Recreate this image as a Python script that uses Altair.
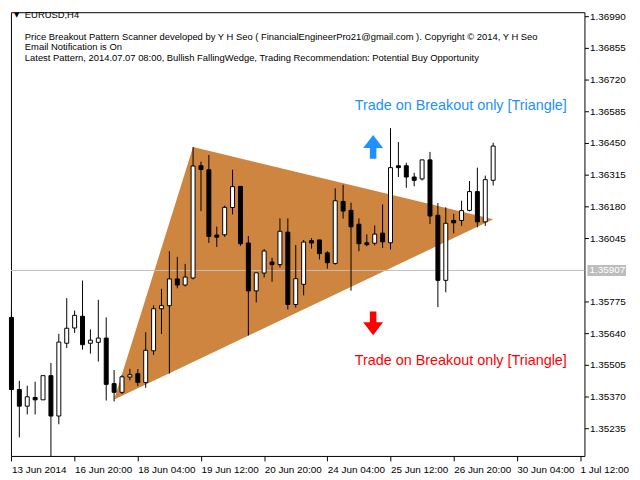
import altair as alt
import pandas as pd

# ---- candle data (EURUSD H4), bar index 0..61 ----
opens = [1.35707, 1.35400, 1.35329, 1.35366, 1.35356, 1.35459, 1.35287, 1.35597, 1.35662, 1.35712,
         1.35597, 1.35601, 1.35619, 1.35425, 1.35388, 1.35453, 1.35467, 1.35430, 1.35565, 1.35744,
         1.35757, 1.35871, 1.35845, 1.35875, 1.36353, 1.36336, 1.36058, 1.36059, 1.36175, 1.36265,
         1.36024, 1.35820, 1.35896, 1.35943, 1.35932, 1.36070, 1.35762, 1.35848, 1.36034, 1.36037,
         1.35982, 1.35937, 1.36201, 1.36163, 1.36104, 1.36025, 1.36023, 1.36066, 1.36025, 1.36353,
         1.36353, 1.36305, 1.36297, 1.36378, 1.36142, 1.35865, 1.36120, 1.36120, 1.36163, 1.36243,
         1.36114, 1.36291]
highs = [1.35733, 1.35437, 1.35416, 1.35433, 1.35459, 1.35513, 1.35637, 1.35789, 1.35736, 1.35864,
         1.35656, 1.35782, 1.35707, 1.35483, 1.35461, 1.35488, 1.35487, 1.35644, 1.35758, 1.35829,
         1.35989, 1.35965, 1.35935, 1.36433, 1.36370, 1.36399, 1.36094, 1.36183, 1.36336, 1.36265,
         1.36054, 1.35897, 1.35998, 1.35961, 1.36129, 1.36129, 1.36015, 1.36037, 1.36045, 1.36037,
         1.35989, 1.36257, 1.36272, 1.36196, 1.36129, 1.36061, 1.36099, 1.36188, 1.36513, 1.36454,
         1.36366, 1.36323, 1.36378, 1.36412, 1.36194, 1.36176, 1.36148, 1.36204, 1.36288, 1.36345,
         1.36311, 1.36451]
lows = [1.35387, 1.35196, 1.35294, 1.35294, 1.35356, 1.35114, 1.35252, 1.35577, 1.35641, 1.35570,
        1.35553, 1.35519, 1.35353, 1.35349, 1.35381, 1.35439, 1.35414, 1.35407, 1.35547, 1.35637,
        1.35468, 1.35831, 1.35839, 1.35869, 1.36160, 1.36024, 1.36007, 1.36050, 1.36146, 1.36012,
        1.35630, 1.35771, 1.35877, 1.35859, 1.35920, 1.35741, 1.35749, 1.35801, 1.36000, 1.35954,
        1.35915, 1.35932, 1.36128, 1.35821, 1.35989, 1.36010, 1.36014, 1.36003, 1.35996, 1.36305,
        1.36259, 1.36266, 1.36290, 1.36105, 1.35751, 1.35814, 1.36065, 1.36097, 1.36159, 1.36091,
        1.36097, 1.36269]
closes = [1.35400, 1.35329, 1.35369, 1.35356, 1.35459, 1.35287, 1.35602, 1.35661, 1.35716, 1.35591,
          1.35610, 1.35619, 1.35422, 1.35388, 1.35454, 1.35463, 1.35430, 1.35567, 1.35744, 1.35757,
          1.35871, 1.35845, 1.35879, 1.36352, 1.36337, 1.36052, 1.36049, 1.36176, 1.36264, 1.36021,
          1.35820, 1.35897, 1.35990, 1.35932, 1.36074, 1.35762, 1.35872, 1.36028, 1.36024, 1.35979,
          1.35940, 1.36204, 1.36160, 1.36093, 1.36021, 1.36017, 1.36062, 1.36029, 1.36345, 1.36345,
          1.36305, 1.36291, 1.36378, 1.36139, 1.35865, 1.36108, 1.36110, 1.36162, 1.36243, 1.36114,
          1.36294, 1.36437]

# ---- axes ----
x_tick_bars = [0, 8, 16, 24, 32, 40, 48, 56, 64, 72]
x_tick_labels = ["13 Jun 2014", "16 Jun 20:00", "18 Jun 04:00", "19 Jun 12:00", "20 Jun 20:00",
                 "24 Jun 04:00", "25 Jun 12:00", "26 Jun 20:00", "30 Jun 04:00", "1 Jul 12:00"]
y_tick_values = [1.36990, 1.36855, 1.36720, 1.36585, 1.36450, 1.36315, 1.36180, 1.36045,
                 1.35775, 1.35640, 1.35505, 1.35370, 1.35235]
current_price = 1.35907

# ---- pattern triangle vertices ----
tri_bars = [13, 23, 61]
tri_prices = [1.35357, 1.36433, 1.36125]

# ---- annotations ----
arrow_bar = 45.8
arrow_up_price = 1.36433
arrow_down_price = 1.35682
note_text = "Trade on Breakout only [Triangle]"
note_bar = 56.9
note_up_price = 1.36607
note_down_price = 1.35522

header = "EURUSD,H4"
info_lines = [
    "Price Breakout Pattern Scanner developed by Y H Seo ( FinancialEngineerPro21@gmail.com ). Copyright \u00a9 2014, Y H Seo",
    "Email Notification is On",
    "Latest Pattern, 2014.07.07 08:00, Bullish FallingWedge, Trading Recommendation: Potential Buy Opportunity",
]

FONT = "Liberation Sans"
W, H = 579, 448

df = pd.DataFrame({"bar": list(range(len(opens))), "open": opens, "high": highs,
                   "low": lows, "close": closes})
df["kind"] = ["bull" if c > o else "bear" for o, c in zip(opens, closes)]

# triangle as area between upper edge and straight lower edge (left vertex -> right vertex)
x0, x1 = tri_bars[0], tri_bars[2]
p0, p1 = tri_prices[0], tri_prices[2]
tri_df = pd.DataFrame({
    "bar": tri_bars,
    "upper": tri_prices,
    "lower": [p0 + (b - x0) / (x1 - x0) * (p1 - p0) for b in tri_bars],
})

xscale = alt.Scale(domain=[-0.06, 72.56], nice=False, zero=False, padding=0)
yscale = alt.Scale(domain=[1.35117, 1.37007], nice=False, zero=False, padding=0)

label_expr = "[" + ",".join("'" + s + "'" for s in x_tick_labels) + "][round(datum.value/8)]"
xaxis = alt.Axis(values=x_tick_bars, labelExpr=label_expr, orient="bottom", grid=False,
                 domain=False, tickSize=5, tickColor="black", labelAlign="left",
                 labelBaseline="top", labelPadding=4, labelFontSize=10, labelFont=FONT,
                 labelColor="black", labelOverlap=False, labelFlush=False, labelBound=False,
                 title=None)
yaxis = alt.Axis(values=y_tick_values, format=".5f", orient="right", grid=False, domain=False,
                 tickSize=4, tickColor="black", labelPadding=1, labelFontSize=10,
                 labelFont=FONT, labelColor="black", labelOverlap=False, labelFlush=False,
                 labelBound=False, title=None)


def xe(field):
    return alt.X(field, type="quantitative", scale=xscale, axis=xaxis)


def ye(field):
    return alt.Y(field, type="quantitative", scale=yscale, axis=yaxis)


triangle = alt.Chart(tri_df).mark_area(color="#CD853F", opacity=1).encode(
    x=xe("bar"), y=ye("upper"), y2="lower")

price_df = pd.DataFrame({"price": [current_price], "label": [f"{current_price:.5f}"]})
price_line = alt.Chart(price_df).mark_rule(color="#C0C0C0", strokeWidth=1).encode(y=ye("price"))

wicks = alt.Chart(df).mark_rule(color="black", strokeWidth=1).encode(
    x=xe("bar"), y=ye("low"), y2="high")
bodies = alt.Chart(df).mark_bar(size=4, stroke="black", strokeWidth=1).encode(
    x=xe("bar"), y=ye("open"), y2="close",
    fill=alt.Fill("kind:N", scale=alt.Scale(domain=["bull", "bear"], range=["white", "black"]),
                  legend=None))

price_box = alt.Chart(price_df).mark_rule(color="#BDBDBD", strokeWidth=11).encode(
    x=alt.value(W + 3), x2=alt.value(W + 42), y=ye("price"))
price_txt = alt.Chart(price_df).mark_text(align="left", baseline="middle", color="white",
                                         fontSize=10, font=FONT).encode(
    x=alt.value(W + 5), y=ye("price"), text="label:N")

UP = "M0,-1.2L1,0.1L0.33,0.1L0.33,1.2L-0.33,1.2L-0.33,0.1L-1,0.1Z"
DOWN = "M0,1.2L1,-0.1L0.33,-0.1L0.33,-1.2L-0.33,-1.2L-0.33,-0.1L-1,-0.1Z"
arr_up = alt.Chart(pd.DataFrame({"bar": [arrow_bar], "price": [arrow_up_price]})).mark_point(
    shape=UP, size=400, filled=True, color="#1E90FF", opacity=1, strokeWidth=0).encode(
    x=xe("bar"), y=ye("price"))
arr_dn = alt.Chart(pd.DataFrame({"bar": [arrow_bar], "price": [arrow_down_price]})).mark_point(
    shape=DOWN, size=400, filled=True, color="#FF0000", opacity=1, strokeWidth=0).encode(
    x=xe("bar"), y=ye("price"))

note_df = pd.DataFrame({"bar": [note_bar, note_bar], "price": [note_up_price, note_down_price],
                        "text": [note_text, note_text], "kind": ["up", "down"]})
notes = alt.Chart(note_df).mark_text(fontSize=14.5, font=FONT, baseline="middle").encode(
    x=xe("bar"), y=ye("price"), text="text:N",
    color=alt.Color("kind:N", scale=alt.Scale(domain=["up", "down"], range=["#1E90FF", "#FF0000"]),
                    legend=None))

tri_mark = alt.Chart(pd.DataFrame({"t": ["\u25bc"]})).mark_text(
    align="left", baseline="middle", fontSize=7, font="DejaVu Sans", color="black").encode(
    x=alt.value(3), y=alt.value(3), text="t:N")
head_txt = alt.Chart(pd.DataFrame({"t": [header]})).mark_text(
    align="left", baseline="middle", fontSize=9.5, font=FONT, color="black").encode(
    x=alt.value(14), y=alt.value(3), text="t:N")
info_txt = alt.Chart(pd.DataFrame({"t": ["\n".join(info_lines)]})).mark_text(
    align="left", baseline="top", fontSize=9.5, font=FONT, color="black",
    lineBreak="\n", lineHeight=10.5).encode(
    x=alt.value(14), y=alt.value(20), text="t:N")

chart = alt.layer(
    triangle, price_line, wicks, bodies, price_box, price_txt, arr_up, arr_dn, notes,
    tri_mark, head_txt, info_txt
).properties(
    width=W, height=H, padding={"left": 0, "top": 0, "right": 0, "bottom": 0},
    background="white"
).configure_view(stroke="black", strokeWidth=1)

chart.save("out.html", embed_options={"renderer": "svg", "actions": False})
